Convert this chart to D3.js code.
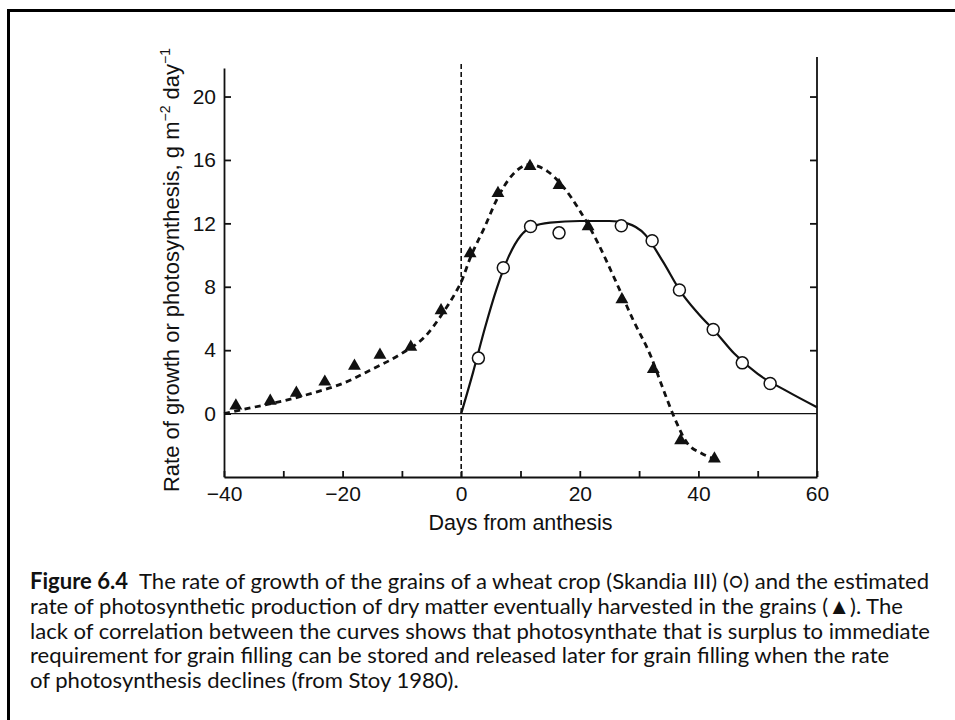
<!DOCTYPE html>
<html>
<head>
<meta charset="utf-8">
<script src="https://cdn.jsdelivr.net/npm/d3@7"></script>
<style>
  body { margin: 0; background: #fff; }
  svg { display: block; }
  .axis text { font-family: "Liberation Sans", Arial, sans-serif; font-size: 21px; fill: #111; }
  .axis path, .axis line { stroke: #111; stroke-width: 1.8; }
</style>
</head>
<body>
<div id="chart"></div>
<script>

// grain growth rate (open circles)
const growthDays = [2.9, 7.1, 11.7, 16.5, 27, 32.2, 36.8, 42.5, 47.4, 52.1];
const growthRate = [3.5, 9.2, 11.8, 11.4, 11.85, 10.9, 7.8, 5.3, 3.2, 1.9];

// fitted growth curve (solid line)
const growthCurveDays = [0, 2, 4, 6, 8, 10, 12, 15, 20, 25, 28, 31, 34, 37, 40, 43, 46, 50, 55, 60];
const growthCurveRate = [0, 2.6, 5.4, 7.9, 9.9, 11.2, 11.8, 12.05, 12.15, 12.15, 12.0, 11.3, 9.6, 7.7, 6.3, 5.1, 3.8, 2.5, 1.4, 0.4];

// photosynthesis ending up in the grains (filled triangles)
const photoDays = [-38, -32.2, -27.8, -23, -18, -13.7, -8.5, -3.4, 1.5, 6.2, 11.6, 16.5, 21.4, 27.1, 32.4, 37, 42.7];
const photoRate = [0.5, 0.8, 1.3, 2.0, 3.0, 3.7, 4.2, 6.5, 10.1, 13.9, 15.6, 14.4, 11.8, 7.2, 2.8, -1.7, -2.85];

// fitted photosynthesis curve (dashed line)
const photoCurveDays = [-40, -35, -30, -25, -20, -15, -10, -6, -3, -1, 0, 1.5, 4, 6, 8.5, 11.5, 14.5, 17, 20, 23, 26, 29, 32, 34, 36, 38, 40.5, 42.7];
const photoCurveRate = [0, 0.4, 0.8, 1.3, 1.9, 2.8, 3.8, 4.9, 6.4, 7.6, 8.3, 9.8, 11.8, 13.5, 15.0, 15.7, 15.3, 14.4, 12.8, 10.8, 8.4, 5.9, 3.6, 1.6, -0.3, -1.8, -2.5, -2.85];

// ticks
const xTicks = [-40, -30, -20, -10, 0, 10, 20, 30, 40, 50, 60];
const xLabels = [-40, -20, 0, 20, 40, 60];
const yTicks = [0, 4, 8, 12, 16, 20];

const captionLines = [
    "The rate of growth of the grains of a wheat crop (Skandia III) (\u25CB) and the estimated",
    "rate of photosynthetic production of dry matter eventually harvested in the grains (\u25B2). The",
    "lack of correlation between the curves shows that photosynthate that is surplus to immediate",
    "requirement for grain filling can be stored and released later for grain filling when the rate",
    "of photosynthesis declines (from Stoy 1980)."
];

const W = 955, H = 720;

const svg = d3.select("#chart").append("svg")
    .attr("width", W)
    .attr("height", H);

svg.append("rect").attr("width", W).attr("height", H).attr("fill", "#fff");

// scanned page frame (left and top edges visible)
svg.append("rect")
    .attr("x", 8.5).attr("y", 10.5)
    .attr("width", 1000).attr("height", 800)
    .attr("fill", "none")
    .attr("stroke", "#000")
    .attr("stroke-width", 3);

// scales
const x = d3.scaleLinear().domain([-40, 60]).range([224, 817]);
const y = d3.scaleLinear().domain([-4, 21.8]).range([477, 68]);

// left axis
svg.append("g")
    .attr("class", "axis")
    .attr("transform", `translate(${x(-40)},0)`)
    .call(d3.axisLeft(y).tickValues(yTicks).tickSizeInner(-7).tickSizeOuter(0).tickPadding(8).tickFormat(d3.format("d")));

// right axis, ticks only
svg.append("g")
    .attr("class", "axis")
    .attr("transform", `translate(${x(60)},0)`)
    .call(d3.axisRight(y).tickValues(yTicks.slice(1)).tickSizeInner(-7).tickSizeOuter(0).tickFormat(""))
    .call(g => g.select(".domain").remove());

svg.append("line")
    .attr("x1", x(60)).attr("x2", x(60))
    .attr("y1", y(-4)).attr("y2", y(22.5))
    .attr("stroke", "#111").attr("stroke-width", 1.8);

// bottom axis
svg.append("g")
    .attr("class", "axis")
    .attr("transform", `translate(0,${y(-4)})`)
    .call(d3.axisBottom(x).tickValues(xTicks).tickSizeInner(-6).tickSizeOuter(0).tickPadding(9)
        .tickFormat(d => xLabels.includes(d) ? d3.format("d")(d) : ""));

// zero line
svg.append("line")
    .attr("x1", x(-40)).attr("x2", x(60))
    .attr("y1", y(0)).attr("y2", y(0))
    .attr("stroke", "#111").attr("stroke-width", 1.4);

// anthesis marker
svg.append("line")
    .attr("x1", x(0)).attr("x2", x(0))
    .attr("y1", y(-4)).attr("y2", y(22.2))
    .attr("stroke", "#111").attr("stroke-width", 1.6)
    .attr("stroke-dasharray", "5,3");

// axis titles
svg.append("text")
    .attr("x", (x(-40) + x(60)) / 2)
    .attr("y", 530)
    .attr("text-anchor", "middle")
    .style("font-family", "'Liberation Sans', Arial, sans-serif")
    .style("font-size", "21.5px")
    .attr("fill", "#111")
    .text("Days from anthesis");

const yTitle = svg.append("text")
    .attr("transform", "translate(179,270) rotate(-90)")
    .attr("text-anchor", "middle")
    .style("font-family", "'Liberation Sans', Arial, sans-serif")
    .style("font-size", "22px")
    .attr("fill", "#111");
yTitle.append("tspan").text("Rate of growth or photosynthesis, g m");
yTitle.append("tspan").attr("dy", -9).style("font-size", "14px").text("\u22122");
yTitle.append("tspan").attr("dy", 9).text(" day");
yTitle.append("tspan").attr("dy", -9).style("font-size", "14px").text("\u22121");

// curves
const line = d3.line()
    .x(d => x(d[0]))
    .y(d => y(d[1]))
    .curve(d3.curveMonotoneX);

svg.append("path")
    .datum(photoCurveDays.map((d, i) => [d, photoCurveRate[i]]))
    .attr("d", line)
    .attr("fill", "none")
    .attr("stroke", "#111")
    .attr("stroke-width", 2.8)
    .attr("stroke-dasharray", "6,4.5");

svg.append("path")
    .datum(growthCurveDays.map((d, i) => [d, growthCurveRate[i]]))
    .attr("d", line)
    .attr("fill", "none")
    .attr("stroke", "#111")
    .attr("stroke-width", 2.2);

// markers
svg.selectAll(".tri")
    .data(photoDays.map((d, i) => [d, photoRate[i]]))
    .enter().append("path")
    .attr("class", "tri")
    .attr("d", d3.symbol(d3.symbolTriangle, 72))
    .attr("transform", d => `translate(${x(d[0])},${y(d[1])})`)
    .attr("fill", "#111");

svg.selectAll(".dot")
    .data(growthDays.map((d, i) => [d, growthRate[i]]))
    .enter().append("circle")
    .attr("class", "dot")
    .attr("cx", d => x(d[0]))
    .attr("cy", d => y(d[1]))
    .attr("r", 6)
    .attr("fill", "#fff")
    .attr("stroke", "#111")
    .attr("stroke-width", 1.5);

// caption
const caption = svg.append("g")
    .style("font-family", "Lato, 'Open Sans', sans-serif")
    .style("font-size", "21px")
    .attr("fill", "#111");

captionLines.forEach((t, i) => {
    const txt = caption.append("text")
        .attr("x", 30)
        .attr("y", 589 + i * 24.8);
    if (i === 0) {
        txt.append("tspan").style("font-weight", "bold").text("Figure 6.4");
        txt.append("tspan").text("\u2002" + t);
    } else {
        txt.text(t);
    }
});

// fit caption width to the printed column (line 3 spans 30..930)
const ref = caption.selectAll("text").nodes()[2];
const w = ref.getComputedTextLength();
caption.style("font-size", (21 * 900 / w).toFixed(2) + "px");

</script>
</body>
</html>
